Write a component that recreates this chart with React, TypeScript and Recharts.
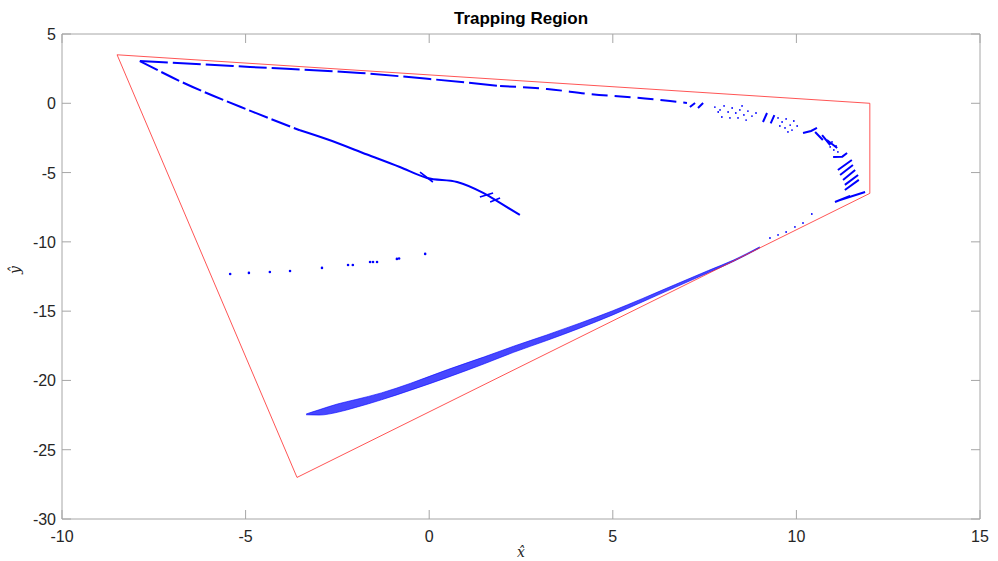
import React from "react";
import {
  ComposedChart,
  Line,
  Area,
  Scatter,
  XAxis,
  YAxis,
} from "recharts";

// ─── data ──────────────────────────────────────────────────────────────────

const ticksX = [-10, -5, 0, 5, 10, 15];
const ticksY = [-30, -25, -20, -15, -10, -5, 0, 5];

// trapping region polygon (closed)
const regionX = [-8.5, 12, 12, -3.6, -8.5];
const regionY = [3.5, 0, -6.5, -27, 3.5];

// upper branch running along the top edge
const topA: [number, number][] = [
  [-7.88, 3.05], [-4.88, 2.62], [-1.88, 2.19], [0.02, 1.75], [1.93, 1.25],
];
const topB: [number, number][] = [
  [1.93, 1.25], [3.21, 1.03], [4.38, 0.67], [5.74, 0.38], [6.56, 0.17], [7.02, 0.02],
];

// branch that falls towards the middle
const midA: [number, number][] = [
  [-7.88, 3.05], [-6.79, 1.6], [-4.8, -0.62], [-3.52, -1.95],
];
const midB: [number, number][] = [
  [-3.52, -1.95], [-2.78, -2.6], [-1.69, -3.7], [-0.8, -4.6], [-0.06, -5.39],
  [0.76, -5.68], [1.47, -6.47], [1.93, -7.19], [2.47, -8.06],
];
const midStrokes: [number, number][][] = [
  [[-0.25, -4.96], [0.1, -5.68]],
  [[1.38, -6.76], [1.74, -6.47]],
  [[1.66, -7.12], [1.93, -6.83]],
];

// short strokes round the right-hand arc
const arcStrokes: [number, number][][] = [
  [[7.1, -0.27], [7.24, 0.02]],
  [[7.32, -0.34], [7.46, 0.02]],
  [[9.09, -1.35], [9.2, -0.7]],
  [[9.3, -1.45], [9.4, -0.85]],
  [[10.18, -2.14], [10.4, -2.0], [10.56, -1.78]],
  [[10.51, -2.07], [10.72, -2.65]],
  [[10.7, -2.29], [10.92, -3.01]],
  [[10.83, -2.65], [11.11, -3.23]],
  [[11.0, -3.87], [11.25, -3.85], [11.38, -3.59]],
  [[11.13, -4.81], [11.51, -4.09]],
  [[11.19, -5.17], [11.54, -4.45]],
  [[11.27, -5.53], [11.6, -4.81]],
  [[11.32, -5.89], [11.68, -5.17]],
  [[11.32, -6.26], [11.7, -5.53]],
  [[11.19, -6.98], [11.87, -6.4]],
  [[11.05, -7.12], [11.46, -6.69]],
];

// loose dots on the arc
const arcDotsX = [
  7.78, 7.92, 8.03, 8.14, 8.25, 8.35, 8.46, 8.57, 8.68, 8.79, 8.9, 7.97, 8.19, 8.41, 8.63, 7.87, 8.52,
  9.5, 9.61, 9.72, 9.83, 9.93, 9.69, 9.88, 10.02, 9.55, 9.77,
  10.97, 11.08, 11.02, 11.13, 10.92,
];
const arcDotsY = [
  -0.27, -0.48, -0.19, -0.63, -0.34, -0.7, -0.48, -0.84, -0.56, -0.92, -0.7, -0.99, -1.06, -1.06, -1.21, -0.63, -0.19,
  -1.06, -1.35, -1.13, -1.57, -1.28, -1.78, -1.93, -1.64, -1.64, -2.07,
  -2.79, -3.08, -3.37, -3.51, -3.15,
];

// sparse dashes left of centre
const sparseX = [-5.42, -4.91, -4.34, -3.79, -2.92, -2.21, -2.08, -1.61, -1.53, -1.42, -0.88, -0.82, -0.11];
const sparseY = [-12.32, -12.24, -12.17, -12.1, -11.88, -11.67, -11.67, -11.45, -11.45, -11.45, -11.23, -11.2, -10.87];

// lower dense band: x, upper edge, lower edge
const bandX = [-3.35, -3.0, -2.5, -2.0, -1.3, -0.5, 0.5, 1.5, 2.3, 3.2, 4.1, 5.0, 5.8, 6.7, 7.6, 8.3, 9.0];
const bandHi = [-22.42, -22.12, -21.7, -21.38, -20.9, -20.2, -19.22, -18.3, -17.53, -16.72, -15.87, -14.97, -14.1, -13.08, -12.07, -11.3, -10.36];
const bandLo = [-22.48, -22.5, -22.3, -21.95, -21.4, -20.7, -19.78, -18.8, -17.97, -17.12, -16.23, -15.27, -14.34, -13.28, -12.23, -11.4, -10.44];

// dots trailing off the band's upper end
const tailX = [9.28, 9.5, 9.72, 9.96, 10.18, 10.42];
const tailY = [-9.72, -9.5, -9.29, -8.92, -8.64, -7.99];

// ─── helpers ───────────────────────────────────────────────────────────────

const toPts = (a: [number, number][]) => a.map(([x, y]) => ({ x, y }));
const zipPts = (xs: number[], ys: number[]) => xs.map((x, i) => ({ x, y: ys[i] }));

// segments joined into one series, broken by null y
function segPts(segs: [number, number][][]) {
  const out: { x: number; y: number | null }[] = [];
  segs.forEach((s) => {
    s.forEach(([x, y]) => out.push({ x, y }));
    out.push({ x: s[s.length - 1][0], y: null });
  });
  return out;
}

const regionData = zipPts(regionX, regionY);
const bandData = bandX.map((x, i) => ({ x, band: [bandLo[i], bandHi[i]] }));

const AXIS = "#a6a6a6";
const TXT = "#262626";
const BLUE = "#0000ff";
const FONT = "'Liberation Sans', Arial, Helvetica, sans-serif";

const dot = (r: number) => (p: any) => <circle cx={p.cx} cy={p.cy} r={r} fill={BLUE} />;

function BottomTick({ x, y, payload }: any) {
  return (
    <g>
      <line x1={x} y1={y} x2={x} y2={y - 9} stroke={AXIS} />
      <text x={x} y={y + 23} textAnchor="middle" fontSize={16} fill={TXT} fontFamily={FONT}>
        {payload.value}
      </text>
    </g>
  );
}

function LeftTick({ x, y, payload }: any) {
  return (
    <g>
      <line x1={x} y1={y} x2={x + 9} y2={y} stroke={AXIS} />
      <text x={x - 6} y={y + 6} textAnchor="end" fontSize={16} fill={TXT} fontFamily={FONT}>
        {payload.value}
      </text>
    </g>
  );
}

const TopTick = ({ x, y }: any) => <line x1={x} y1={y} x2={x} y2={y + 9} stroke={AXIS} />;
const RightTick = ({ x, y }: any) => <line x1={x} y1={y} x2={x - 9} y2={y} stroke={AXIS} />;

export default function App() {
  return (
    <div
      style={{
        position: "absolute",
        left: 0,
        top: 0,
        width: 998,
        height: 561,
        background: "#fff",
        fontFamily: FONT,
      }}
    >
      <ComposedChart
        width={998}
        height={561}
        margin={{ top: 33, right: 17, bottom: 12, left: 12 }}
      >
        <XAxis
          xAxisId={0}
          dataKey="x"
          type="number"
          domain={[-10, 15]}
          ticks={ticksX}
          interval={0}
          height={30}
          tickSize={0}
          tickMargin={0}
          tick={<BottomTick />}
          axisLine={{ stroke: AXIS }}
          allowDataOverflow
        />
        <XAxis
          xAxisId="top"
          orientation="top"
          dataKey="x"
          type="number"
          domain={[-10, 15]}
          ticks={ticksX}
          interval={0}
          height={1}
          tickSize={0}
          tickMargin={0}
          tick={<TopTick />}
          axisLine={{ stroke: AXIS }}
          allowDataOverflow
        />
        <YAxis
          yAxisId={0}
          type="number"
          domain={[-30, 5]}
          ticks={ticksY}
          interval={0}
          width={50}
          tickSize={0}
          tickMargin={0}
          tick={<LeftTick />}
          axisLine={{ stroke: AXIS }}
          allowDataOverflow
        />
        <YAxis
          yAxisId="right"
          orientation="right"
          type="number"
          domain={[-30, 5]}
          ticks={ticksY}
          interval={0}
          width={1}
          tickSize={0}
          tickMargin={0}
          tick={<RightTick />}
          axisLine={{ stroke: AXIS }}
          allowDataOverflow
        />

        {/* invisible copy on the top/right axes so the box is drawn */}
        <Line
          xAxisId="top"
          yAxisId="right"
          data={regionData}
          dataKey="y"
          stroke="none"
          dot={false}
          isAnimationActive={false}
        />

        {/* trapping region */}
        <Line
          data={regionData}
          dataKey="y"
          type="linear"
          stroke="#ff2a2a"
          strokeWidth={0.8}
          dot={false}
          isAnimationActive={false}
        />

        {/* lower band */}
        <Area
          data={bandData}
          dataKey="band"
          type="monotone"
          stroke={BLUE}
          strokeWidth={0.6}
          fill={BLUE}
          fillOpacity={0.72}
          isAnimationActive={false}
        />
        <Scatter data={zipPts(tailX, tailY)} dataKey="y" fill={BLUE}
          shape={dot(0.9)} isAnimationActive={false} />

        {/* upper branch */}
        <Line data={toPts(topA)} dataKey="y" type="monotone" stroke={BLUE} strokeWidth={2}
          strokeDasharray="28 5" dot={false} isAnimationActive={false} />
        <Line data={toPts(topB)} dataKey="y" type="monotone" stroke={BLUE} strokeWidth={2}
          strokeDasharray="16 7" dot={false} isAnimationActive={false} />

        {/* middle branch */}
        <Line data={toPts(midA)} dataKey="y" type="monotone" stroke={BLUE} strokeWidth={2}
          strokeDasharray="20 4" dot={false} isAnimationActive={false} />
        <Line data={toPts(midB)} dataKey="y" type="monotone" stroke={BLUE} strokeWidth={2}
          dot={false} isAnimationActive={false} />
        <Line data={segPts(midStrokes)} dataKey="y" type="linear" stroke={BLUE} strokeWidth={1.6}
          dot={false} isAnimationActive={false} />

        {/* right arc */}
        <Line data={segPts(arcStrokes)} dataKey="y" type="linear" stroke={BLUE} strokeWidth={2}
          dot={false} isAnimationActive={false} />
        <Scatter data={zipPts(arcDotsX, arcDotsY)} dataKey="y" fill={BLUE}
          shape={dot(0.9)} isAnimationActive={false} />

        {/* sparse dashes */}
        <Scatter data={zipPts(sparseX, sparseY)} dataKey="y" fill={BLUE}
          shape={dot(1.3)} isAnimationActive={false} />
      </ComposedChart>

      <div
        style={{
          position: "absolute",
          left: 62,
          width: 918,
          top: 9,
          textAlign: "center",
          fontWeight: "bold",
          fontSize: 17,
          color: "#000",
        }}
      >
        Trapping Region
      </div>
      <div
        style={{
          position: "absolute",
          left: 511,
          width: 20,
          top: 544,
          textAlign: "center",
          fontFamily: "'DejaVu Serif', 'Liberation Serif', serif",
          fontStyle: "italic",
          fontSize: 14,
          color: TXT,
        }}
      >
        x̂
      </div>
      <div
        style={{
          position: "absolute",
          left: 5,
          width: 20,
          top: 262,
          textAlign: "center",
          transform: "rotate(-90deg)",
          fontFamily: "'DejaVu Serif', 'Liberation Serif', serif",
          fontStyle: "italic",
          fontSize: 14,
          color: TXT,
        }}
      >
        ŷ
      </div>
    </div>
  );
}
